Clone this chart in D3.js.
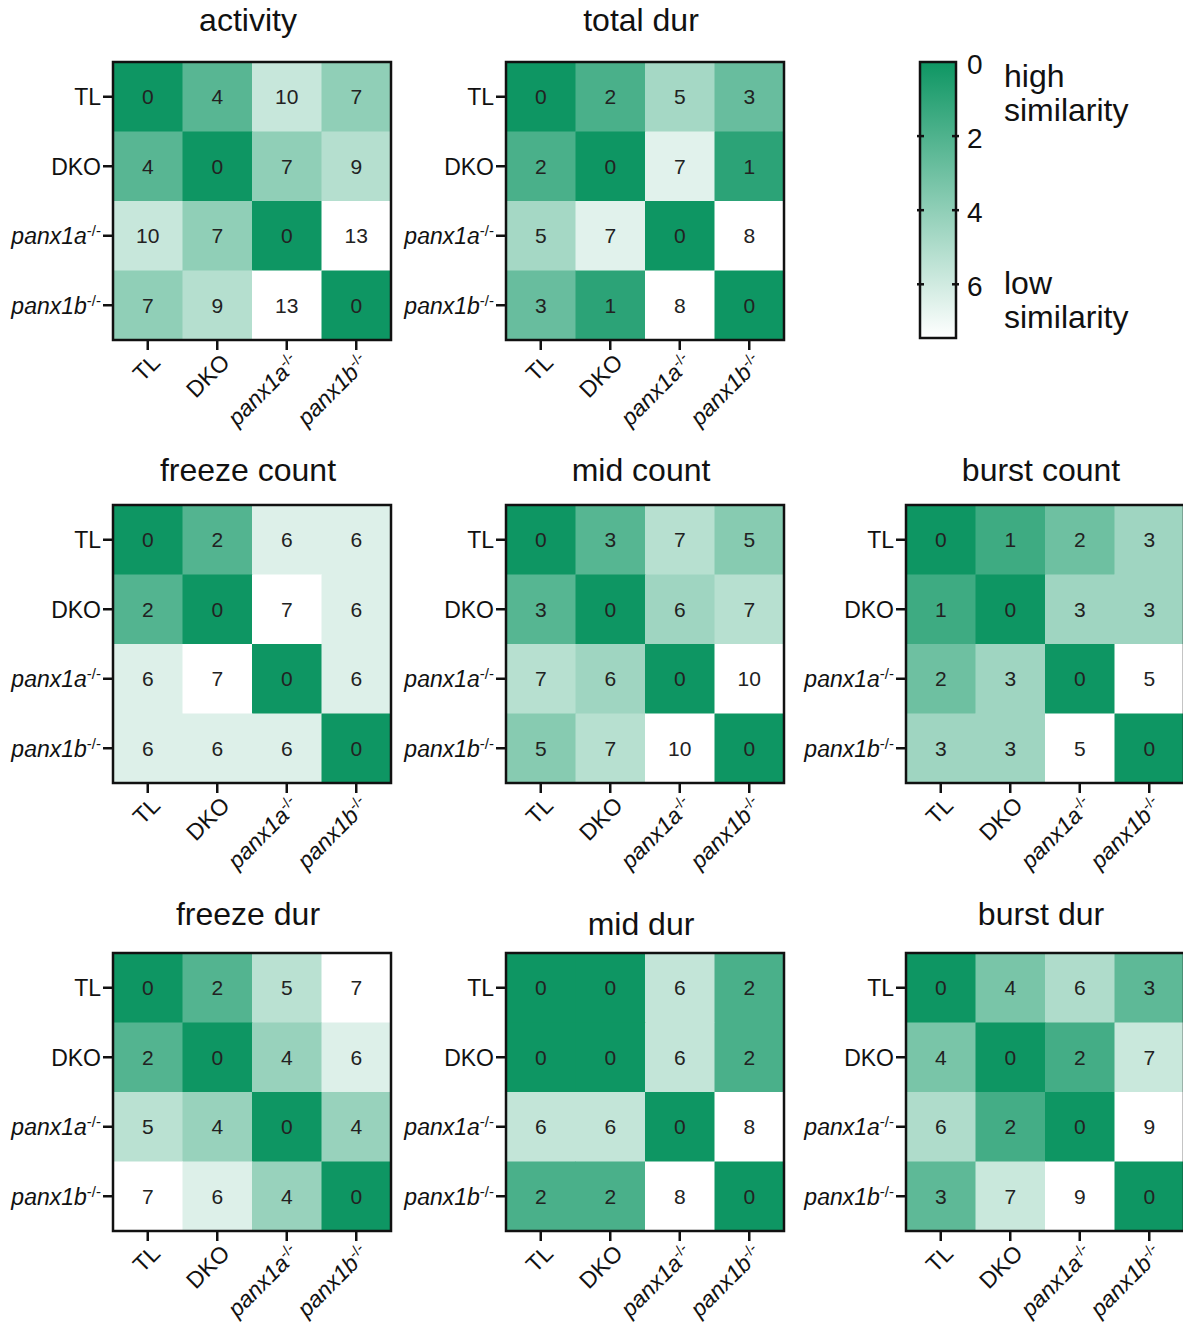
<!DOCTYPE html>
<html>
<head>
<meta charset="utf-8">
<script src="https://cdn.jsdelivr.net/npm/d3@7"></script>
<style>
  html, body { margin: 0; padding: 0; background: #fff; }
  svg { display: block; }
  text { font-family: Arial, "Liberation Sans", sans-serif; fill: #111; }
</style>
</head>
<body>
<svg id="chart" width="1183" height="1328"></svg>
<script>
// Genotype groups (rows and columns of every matrix)
const groups = ["TL", "DKO", "panx1a", "panx1b"];
const italicGroups = ["panx1a", "panx1b"];

// Pairwise dissimilarity ranks per behavioural measure
const activity    = [[0, 4, 10, 7], [4, 0, 7, 9], [10, 7, 0, 13], [7, 9, 13, 0]];
const totalDur    = [[0, 2, 5, 3], [2, 0, 7, 1], [5, 7, 0, 8], [3, 1, 8, 0]];
const freezeCount = [[0, 2, 6, 6], [2, 0, 7, 6], [6, 7, 0, 6], [6, 6, 6, 0]];
const midCount    = [[0, 3, 7, 5], [3, 0, 6, 7], [7, 6, 0, 10], [5, 7, 10, 0]];
const burstCount  = [[0, 1, 2, 3], [1, 0, 3, 3], [2, 3, 0, 5], [3, 3, 5, 0]];
const freezeDur   = [[0, 2, 5, 7], [2, 0, 4, 6], [5, 4, 0, 4], [7, 6, 4, 0]];
const midDur      = [[0, 0, 6, 2], [0, 0, 6, 2], [6, 6, 0, 8], [2, 2, 8, 0]];
const burstDur    = [[0, 4, 6, 3], [4, 0, 2, 7], [6, 2, 0, 9], [3, 7, 9, 0]];

// Colour bar ticks
const legendTicks = [0, 2, 4, 6];
const legendMax = 7.45;

const panels = [
  { title: "activity",     values: activity,    x: 113, y: 62,  titleY: 31 },
  { title: "total dur",    values: totalDur,    x: 506, y: 62,  titleY: 31 },
  { title: "freeze count", values: freezeCount, x: 113, y: 505, titleY: 481 },
  { title: "mid count",    values: midCount,    x: 506, y: 505, titleY: 481 },
  { title: "burst count",  values: burstCount,  x: 906, y: 505, titleY: 481 },
  { title: "freeze dur",   values: freezeDur,   x: 113, y: 953, titleY: 925 },
  { title: "mid dur",      values: midDur,      x: 506, y: 953, titleY: 935 },
  { title: "burst dur",    values: burstDur,    x: 906, y: 953, titleY: 925 }
];

const SIZE = 278;
const DARK = "#0e9663";
const svg = d3.select("#chart");

function labelText(sel, name) {
  sel.append("tspan").text(name)
    .style("font-style", italicGroups.includes(name) ? "italic" : "normal");
  if (italicGroups.includes(name)) {
    sel.append("tspan").text("-/-")
      .attr("font-size", 15)
      .attr("baseline-shift", "55%");
  }
}

panels.forEach(p => {
  const g = svg.append("g").attr("transform", `translate(${p.x},${p.y})`);
  const x = d3.scaleBand().domain(groups).range([0, SIZE]);
  const y = d3.scaleBand().domain(groups).range([0, SIZE]);
  const maxV = d3.max(p.values.flat());
  const color = d3.scaleLinear().domain([0, maxV]).range([DARK, "#ffffff"])
    .interpolate(d3.interpolateRgb);

  const cells = [];
  p.values.forEach((row, i) => row.forEach((v, j) => cells.push({ r: groups[i], c: groups[j], v })));

  g.selectAll("rect.cell").data(cells).join("rect")
    .attr("class", "cell")
    .attr("x", d => x(d.c))
    .attr("y", d => y(d.r))
    .attr("width", x.bandwidth() + 0.5)
    .attr("height", y.bandwidth() + 0.5)
    .attr("fill", d => color(d.v));

  g.selectAll("text.val").data(cells).join("text")
    .attr("class", "val")
    .attr("x", d => x(d.c) + x.bandwidth() / 2)
    .attr("y", d => y(d.r) + y.bandwidth() / 2)
    .attr("text-anchor", "middle")
    .attr("dy", "0.36em")
    .attr("font-size", 21)
    .style("fill", "#222")
    .text(d => d.v);

  g.append("rect")
    .attr("x", 0).attr("y", 0).attr("width", SIZE).attr("height", SIZE)
    .attr("fill", "none").attr("stroke", "#111").attr("stroke-width", 2.5);

  // left axis
  const ya = g.append("g").attr("transform", "translate(-1,0)")
    .call(d3.axisLeft(y).tickSize(9).tickPadding(2).tickFormat(""));
  ya.select(".domain").remove();
  ya.selectAll(".tick line").attr("stroke", "#111").attr("stroke-width", 2.5);
  ya.selectAll(".tick").append("text")
    .attr("x", -11).attr("dy", "0.36em")
    .attr("text-anchor", "end")
    .attr("font-size", 23)
    .style("fill", "#111")
    .each(function (d) { labelText(d3.select(this), d); });

  // bottom axis
  const xa = g.append("g").attr("transform", `translate(0,${SIZE + 1})`)
    .call(d3.axisBottom(x).tickSize(9).tickFormat(""));
  xa.select(".domain").remove();
  xa.selectAll(".tick line").attr("stroke", "#111").attr("stroke-width", 2.5);
  xa.selectAll(".tick").append("text")
    .attr("transform", "translate(8,17) rotate(-45)")
    .attr("text-anchor", "end")
    .attr("dy", "0.36em")
    .attr("font-size", 23)
    .style("fill", "#111")
    .each(function (d) { labelText(d3.select(this), d); });

  svg.append("text")
    .attr("x", p.x + SIZE / 2 - 4)
    .attr("y", p.titleY)
    .attr("text-anchor", "middle")
    .attr("font-size", 32)
    .text(p.title);
});

// Colour bar legend
const lg = svg.append("g").attr("transform", "translate(920,62)");
const barH = 276, barW = 36;
const ls = d3.scaleLinear().domain([0, legendMax]).range([0, barH]);
const grad = svg.append("defs").append("linearGradient")
  .attr("id", "simgrad").attr("x1", 0).attr("y1", 0).attr("x2", 0).attr("y2", 1);
grad.append("stop").attr("offset", "0%").attr("stop-color", DARK);
grad.append("stop").attr("offset", "100%").attr("stop-color", "#ffffff");
lg.append("rect").attr("width", barW).attr("height", barH)
  .attr("fill", "url(#simgrad)").attr("stroke", "#111").attr("stroke-width", 2.5);
lg.selectAll("line.tl").data(legendTicks.filter(t => t > 0)).join("line")
  .attr("x1", -3).attr("x2", 4).attr("y1", d => ls(d)).attr("y2", d => ls(d))
  .attr("stroke", "#111").attr("stroke-width", 2.5);
lg.selectAll("line.tr").data(legendTicks.filter(t => t > 0)).join("line")
  .attr("x1", barW - 4).attr("x2", barW + 3).attr("y1", d => ls(d)).attr("y2", d => ls(d))
  .attr("stroke", "#111").attr("stroke-width", 2.5);
lg.selectAll("text.tk").data(legendTicks).join("text")
  .attr("x", barW + 11).attr("y", d => ls(d) + 2)
  .attr("dy", "0.36em")
  .attr("font-size", 28)
  .text(d => d);

const legendNotes = [
  { t: "high", y: 87 }, { t: "similarity", y: 121 },
  { t: "low", y: 294 }, { t: "similarity", y: 328 }
];
svg.selectAll("text.note").data(legendNotes).join("text")
  .attr("x", 1004).attr("y", d => d.y)
  .attr("font-size", 32)
  .text(d => d.t);
</script>
</body>
</html>
